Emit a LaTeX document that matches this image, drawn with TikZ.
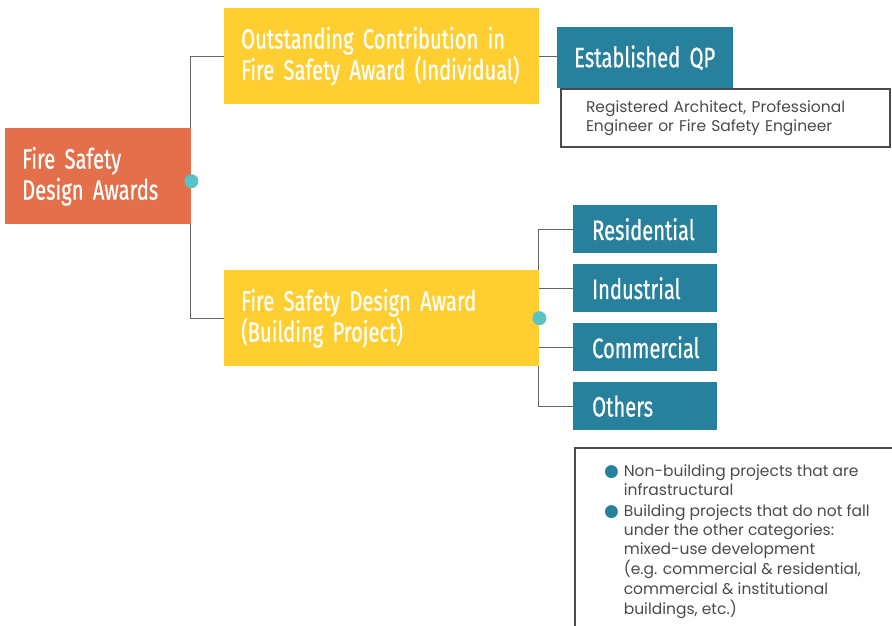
\documentclass[tikz,border=0pt]{standalone}
\usepackage{fontspec}
\setmainfont{Poppins}
\newfontfamily\headfont[FakeStretch=0.72,FakeBold=0.6]{Fira Sans}
\newfontfamily\symfont{DejaVu Sans}
\usetikzlibrary{backgrounds}
\definecolor{awardorange}{HTML}{E3704A}
\definecolor{awardyellow}{HTML}{FFCF31}
\definecolor{awardteal}{HTML}{27819C}
\definecolor{awarddot}{HTML}{58C3C6}
\definecolor{awardgrey}{HTML}{4A4A4A}
\newcommand{\headtype}{\headfont\fontsize{28}{31}\selectfont\spaceskip=5.5pt\relax}
\newcommand{\dotmark}{\textcolor{awardteal}{\symfont\fontsize{17}{17}\selectfont ●}}
\begin{document}
\begin{tikzpicture}[x=1pt,y=-1pt,
	head/.style={anchor=north west,inner xsep=17pt,inner ysep=0pt,align=left,text=white,font=\headtype},
	rootbox/.style={head,fill=awardorange,minimum height=96pt,text width=152pt},
	awardbox/.style={head,fill=awardyellow,minimum height=96pt,text width=281pt},
	catbox/.style={head,fill=awardteal,inner xsep=19pt,minimum height=48pt,text width=106pt},
	notebox/.style={anchor=north west,draw=awardgrey,line width=2pt,inner xsep=25pt,inner ysep=0pt,minimum height=58pt,text width=279pt,align=left,text=awardgrey,font=\fontsize{15.5}{19}\selectfont},
	listbox/.style={anchor=north west,draw=awardgrey,line width=2pt,inner xsep=29pt,inner ysep=15pt,text=awardgrey,font=\fontsize{15.5}{19.3}\selectfont},
	link/.style={draw=awardgrey!85,line width=1.3pt},
	hub/.style={fill=awarddot}]
\useasboundingbox (0,0) rectangle (892,625);
\clip (0,0) rectangle (892,625);
\node[rootbox] (root) at (5,128) {Fire Safety\\Design Awards};
\node[awardbox] (indiv) at (224,8) {Outstanding Contribution in\\Fire Safety Award (Individual)};
\node[awardbox] (proj) at (224,270) {Fire Safety Design Award\\(Building Project)};
\node[notebox] (qpnote) at (560,88) {Registered Architect, Professional\\Engineer or Fire Safety Engineer};
\node[head,fill=awardteal,minimum height=61pt,text width=142pt] (qp) at (557,27) {Established QP};
\node[catbox] (res) at (573,205) {Residential};
\node[catbox] (ind) at (573,264) {Industrial};
\node[catbox] (com) at (573,323) {Commercial};
\node[catbox] (oth) at (573,382) {Others};
\node[listbox] (othnote) at (574,447) {\parbox[c][190pt][t]{300pt}{%
	\begin{tabular}{@{}l@{\hspace{5pt}}l@{}}
	\dotmark & Non-building projects that are\\
	 & infrastructural\\[1pt]
	\dotmark & Building projects that do not fall\\
	 & under the other categories:\\
	 & mixed-use development\\
	 & (e.g. commercial \& residential,\\
	 & commercial \& institutional\\
	 & buildings, etc.)
	\end{tabular}}};
\fill[hub] ([yshift=-5pt]root.east) circle (7pt);
\fill[hub] (proj.east) circle (7pt);
\begin{scope}[on background layer]
\draw[link] (indiv.west) -| ([xshift=-1pt]root.east) |- (proj.west);
\draw[link] (indiv.east) -- (indiv.east -| qp.west);
\draw[link] (res.west) -| ([xshift=-1pt]proj.east) |- (oth.west);
\draw[link] (ind.west) -- (ind.west -| proj.east);
\draw[link] (com.west) -- (com.west -| proj.east);
\end{scope}
\end{tikzpicture}
\end{document}
